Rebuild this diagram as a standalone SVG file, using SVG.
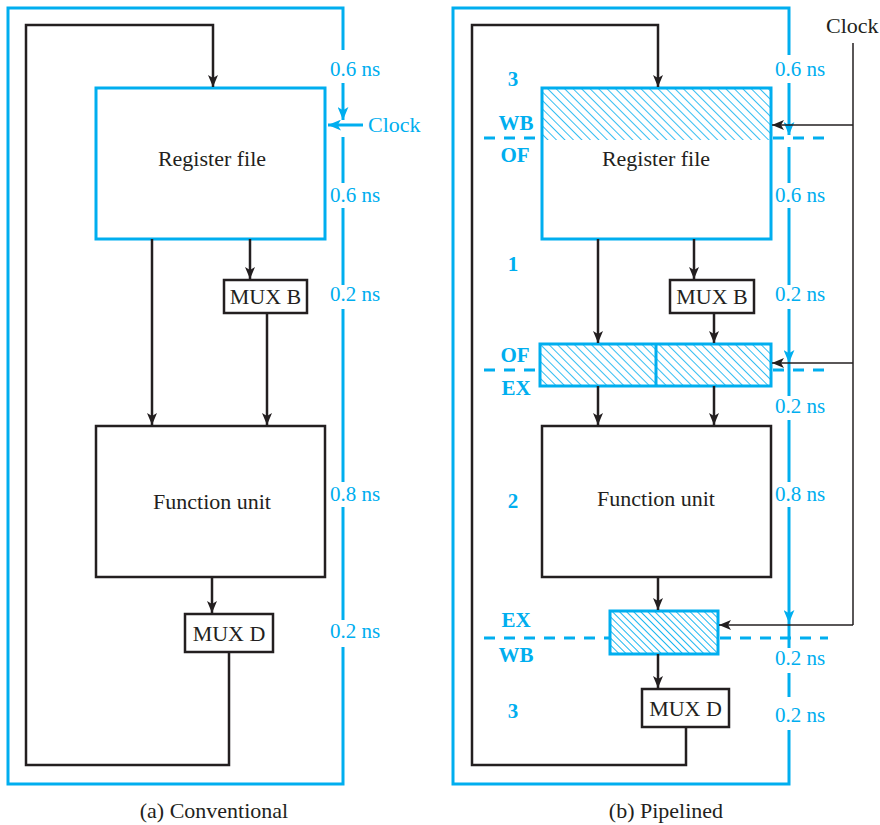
<svg xmlns="http://www.w3.org/2000/svg" width="880" height="825" viewBox="0 0 880 825">
<defs>
<marker id="ab" viewBox="0 0 12 10" refX="12" refY="5" markerWidth="12" markerHeight="10" markerUnits="userSpaceOnUse" orient="auto"><path d="M0,0 L12,5 L0,10 L3,5 z" fill="#231f20"/></marker>
<marker id="au" viewBox="0 0 12 10" refX="12" refY="5" markerWidth="13" markerHeight="11" markerUnits="userSpaceOnUse" orient="auto"><path d="M0,0 L12,5 L0,10 L3,5 z" fill="#00aeef"/></marker>
<pattern id="hatch" width="6" height="6" patternUnits="userSpaceOnUse" patternTransform="rotate(-45)"><line x1="0" y1="-1" x2="0" y2="7" stroke="#00aeef" stroke-width="1.6"/></pattern>
<pattern id="hatch2" width="5" height="5" patternUnits="userSpaceOnUse" patternTransform="rotate(-45)"><line x1="0" y1="-1" x2="0" y2="6" stroke="#00aeef" stroke-width="1.8"/></pattern>
</defs>
<style>
.bl{fill:none;stroke:#00aeef;stroke-width:3}
.bk{fill:none;stroke:#231f20;stroke-width:2.5}
.bx{fill:#fff;stroke:#231f20;stroke-width:2.5}
.dash{fill:none;stroke:#00aeef;stroke-width:3;stroke-dasharray:11 9}
.t{font-family:"Liberation Serif","Times New Roman",serif;font-size:21px;fill:#00aeef}
.lb{font-family:"Liberation Serif","Times New Roman",serif;font-size:22px;fill:#231f20;text-anchor:middle}
.st{font-family:"Liberation Serif","Times New Roman",serif;font-size:21px;font-weight:bold;fill:#00aeef;text-anchor:middle}
.ck{font-family:"Liberation Serif","Times New Roman",serif;font-size:22px}
</style>

<!-- (a) Conventional -->
<g id="frame-a">
<path class="bl" d="M343,50 L343,8 L8,8 L8,784 L343,784 L343,647"/>
<line class="bl" x1="343" y1="83" x2="343" y2="120" marker-end="url(#au)"/>
<line class="bl" x1="343" y1="137" x2="343" y2="183"/>
<line class="bl" x1="343" y1="208" x2="343" y2="285"/>
<line class="bl" x1="343" y1="309" x2="343" y2="482"/>
<line class="bl" x1="343" y1="507" x2="343" y2="620"/>
</g>
<g id="timing-a">
<text class="t" x="330" y="76">0.6 ns</text>
<text class="t" x="330" y="202">0.6 ns</text>
<text class="t" x="330" y="301">0.2 ns</text>
<text class="t" x="330" y="501">0.8 ns</text>
<text class="t" x="330" y="638">0.2 ns</text>
</g>
<g id="clock-a">
<line class="bl" x1="363" y1="125" x2="328" y2="125" stroke-width="2" marker-end="url(#au)"/>
<text class="ck" x="368" y="132" fill="#00aeef">Clock</text>
</g>
<g id="regfile-a">
<rect x="96" y="88" width="229" height="151" fill="#fff" stroke="#00aeef" stroke-width="3"/>
<text class="lb" x="212" y="166">Register file</text>
</g>
<g id="muxb-a">
<rect class="bx" x="224" y="280" width="83" height="33"/>
<text class="lb" x="265.5" y="304">MUX B</text>
</g>
<g id="fu-a">
<rect class="bx" x="96" y="426" width="229" height="151"/>
<text class="lb" x="212" y="509">Function unit</text>
</g>
<g id="muxd-a">
<rect class="bx" x="185" y="614" width="88" height="38"/>
<text class="lb" x="229" y="641">MUX D</text>
</g>
<g id="connectors-a">
<path class="bk" d="M229,652 L229,765 L26,765 L26,25 L213,25 L213,87" marker-end="url(#ab)"/>
<line class="bk" x1="152" y1="239" x2="152" y2="425" marker-end="url(#ab)"/>
<line class="bk" x1="250" y1="239" x2="250" y2="279" marker-end="url(#ab)"/>
<line class="bk" x1="267" y1="313" x2="267" y2="425" marker-end="url(#ab)"/>
<line class="bk" x1="212" y1="577" x2="212" y2="613" marker-end="url(#ab)"/>
</g>
<text class="ck" x="214" y="818" text-anchor="middle" fill="#231f20">(a) Conventional</text>

<!-- (b) Pipelined -->
<g id="frame-b">
<path class="bl" d="M789,55 L789,8 L453,8 L453,784 L789,784 L789,730"/>
<line class="bl" x1="789" y1="83" x2="789" y2="135" marker-end="url(#au)"/>
<line class="bl" x1="789" y1="147" x2="789" y2="183"/>
<line class="bl" x1="789" y1="208" x2="789" y2="285"/>
<line class="bl" x1="789" y1="309" x2="789" y2="363" marker-end="url(#au)"/>
<line class="bl" x1="789" y1="363" x2="789" y2="396"/>
<line class="bl" x1="789" y1="420" x2="789" y2="482"/>
<line class="bl" x1="789" y1="507" x2="789" y2="623" marker-end="url(#au)"/>
<line class="bl" x1="789" y1="623" x2="789" y2="648"/>
<line class="bl" x1="789" y1="673" x2="789" y2="697"/>
</g>
<g id="timing-b">
<text class="t" x="775" y="76">0.6 ns</text>
<text class="t" x="775" y="202">0.6 ns</text>
<text class="t" x="775" y="301">0.2 ns</text>
<text class="t" x="775" y="413">0.2 ns</text>
<text class="t" x="775" y="501">0.8 ns</text>
<text class="t" x="775" y="665">0.2 ns</text>
<text class="t" x="775" y="722">0.2 ns</text>
</g>
<g id="stages-b">
<text class="st" x="513" y="86">3</text>
<text class="st" x="516" y="130">WB</text>
<text class="st" x="515" y="162">OF</text>
<text class="st" x="513" y="271">1</text>
<text class="st" x="515" y="362">OF</text>
<text class="st" x="516" y="395">EX</text>
<text class="st" x="513" y="508">2</text>
<text class="st" x="516" y="627">EX</text>
<text class="st" x="516" y="662">WB</text>
<text class="st" x="513" y="718">3</text>
</g>
<g id="stage-lines-b">
<line class="dash" x1="484" y1="138" x2="542" y2="138"/>
<line class="dash" x1="773" y1="138" x2="828" y2="138"/>
<line class="dash" x1="484" y1="370" x2="540" y2="370"/>
<line class="dash" x1="773" y1="370" x2="828" y2="370"/>
<line class="dash" x1="484" y1="638" x2="610" y2="638"/>
<line class="dash" x1="720" y1="638" x2="828" y2="638"/>
</g>
<g id="regfile-b">
<rect x="542" y="88" width="229" height="151" fill="#fff"/>
<rect x="542" y="88" width="229" height="52" fill="url(#hatch)"/>
<rect x="542" y="88" width="229" height="151" fill="none" stroke="#00aeef" stroke-width="3"/>
<text class="lb" x="656" y="166">Register file</text>
</g>
<g id="muxb-b">
<rect class="bx" x="670" y="280" width="84" height="33"/>
<text class="lb" x="712" y="304">MUX B</text>
</g>
<g id="ofex-reg">
<rect x="540" y="344" width="231" height="42" fill="url(#hatch)" stroke="#00aeef" stroke-width="3"/>
<line class="bl" x1="656" y1="344" x2="656" y2="386"/>
</g>
<g id="fu-b">
<rect class="bx" x="542" y="426" width="229" height="151"/>
<text class="lb" x="656" y="506">Function unit</text>
</g>
<g id="exwb-reg">
<rect x="610" y="611" width="108" height="43" fill="url(#hatch2)" stroke="#00aeef" stroke-width="3"/>
</g>
<g id="muxd-b">
<rect class="bx" x="642" y="689" width="87" height="38"/>
<text class="lb" x="685.5" y="716">MUX D</text>
</g>
<g id="clock-b">
<text class="ck" x="826" y="33" fill="#231f20">Clock</text>
<path d="M853,43 L853,625" fill="none" stroke="#231f20" stroke-width="1.5"/>
<line x1="853" y1="125" x2="772" y2="125" stroke="#231f20" stroke-width="1.5" marker-end="url(#ab)"/>
<line x1="853" y1="363" x2="772" y2="363" stroke="#231f20" stroke-width="1.5" marker-end="url(#ab)"/>
<line x1="853" y1="625" x2="719" y2="625" stroke="#231f20" stroke-width="1.5" marker-end="url(#ab)"/>
</g>
<g id="connectors-b">
<path class="bk" d="M686,727 L686,765 L472,765 L472,25 L658,25 L658,87" marker-end="url(#ab)"/>
<line class="bk" x1="598" y1="239" x2="598" y2="343" marker-end="url(#ab)"/>
<line class="bk" x1="694" y1="239" x2="694" y2="279" marker-end="url(#ab)"/>
<line class="bk" x1="714" y1="313" x2="714" y2="343" marker-end="url(#ab)"/>
<line class="bk" x1="598" y1="386" x2="598" y2="425" marker-end="url(#ab)"/>
<line class="bk" x1="714" y1="386" x2="714" y2="425" marker-end="url(#ab)"/>
<line class="bk" x1="658" y1="577" x2="658" y2="610" marker-end="url(#ab)"/>
<line class="bk" x1="658" y1="654" x2="658" y2="688" marker-end="url(#ab)"/>
</g>
<text class="ck" x="666" y="818" text-anchor="middle" fill="#231f20">(b) Pipelined</text>
</svg>
